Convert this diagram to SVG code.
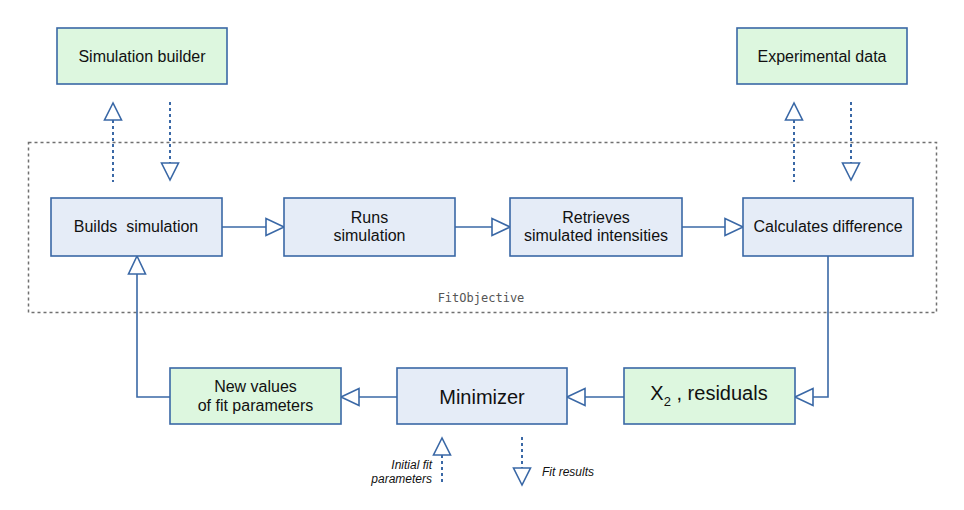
<svg xmlns="http://www.w3.org/2000/svg" width="964" height="510" viewBox="0 0 964 510">
<style>
.box{stroke:#3a68a6;stroke-width:1.6}
.blue{fill:#e5ecf7}
.green{fill:#ddf7df}
.t{font-family:"Liberation Sans",Arial,sans-serif;font-size:16px;fill:#111;text-anchor:middle}
.big{font-size:20px}
.it{font-family:"Liberation Sans",Arial,sans-serif;font-size:12px;font-style:italic;fill:#111}
.line{fill:none;stroke:#3a68a6;stroke-width:1.6}
.dot{fill:none;stroke:#3a68a6;stroke-width:2;stroke-dasharray:3 3}
.head{fill:#fff;stroke:#3a68a6;stroke-width:1.6}
</style>
<rect width="964" height="510" fill="#fff"/>
<g id="fitobjective">
<rect x="28.5" y="142.5" width="908" height="170" fill="none" stroke="#707070" stroke-width="1.5" stroke-dasharray="3 3"/>
<text x="481" y="302" font-family="'DejaVu Sans Mono','Liberation Mono',monospace" font-size="12" fill="#555" text-anchor="middle">FitObjective</text>
</g>
<g id="connectors">
<path class="dot" d="M113 120V182"/>
<path class="dot" d="M170 102V163"/>
<path class="dot" d="M794 120V182"/>
<path class="dot" d="M851 102V163"/>
<path class="dot" d="M442 455V482"/>
<path class="dot" d="M522 437V468"/>
<path class="line" d="M222 227H266"/>
<path class="line" d="M455 227H492"/>
<path class="line" d="M682 227H725"/>
<path class="line" d="M828 256V397H813"/>
<path class="line" d="M624 397H585"/>
<path class="line" d="M397 397H359"/>
<path class="line" d="M170 397H137V274"/>
<path class="head" d="M113 103L104.5 120H121.5Z"/>
<path class="head" d="M170 180L161.5 163H178.5Z"/>
<path class="head" d="M794 103L785.5 120H802.5Z"/>
<path class="head" d="M851 180L842.5 163H859.5Z"/>
<path class="head" d="M442 438L433.5 455H450.5Z"/>
<path class="head" d="M522 485L513.5 468H530.5Z"/>
<path class="head" d="M284 227L266 218.5V235.5Z"/>
<path class="head" d="M510 227L492 218.5V235.5Z"/>
<path class="head" d="M743 227L725 218.5V235.5Z"/>
<path class="head" d="M795 397L813 388.5V405.5Z"/>
<path class="head" d="M567 397L585 388.5V405.5Z"/>
<path class="head" d="M341 397L359 388.5V405.5Z"/>
<path class="head" d="M137 256L128.5 274H145.5Z"/>
</g>
<g id="simulation-builder">
<rect class="box green" x="57" y="28" width="170" height="56"/>
<text class="t" x="142" y="62">Simulation builder</text>
</g>
<g id="experimental-data">
<rect class="box green" x="737" y="28" width="170" height="56"/>
<text class="t" x="822" y="62">Experimental data</text>
</g>
<g id="builds-simulation">
<rect class="box blue" x="51" y="198" width="171" height="58"/>
<text class="t" x="136" y="232" xml:space="preserve">Builds  simulation</text>
</g>
<g id="runs-simulation">
<rect class="box blue" x="284" y="198" width="171" height="58"/>
<text class="t" x="369.5" y="223">Runs</text>
<text class="t" x="369.5" y="241">simulation</text>
</g>
<g id="retrieves">
<rect class="box blue" x="510" y="198" width="172" height="58"/>
<text class="t" x="596" y="223">Retrieves</text>
<text class="t" x="596" y="241">simulated intensities</text>
</g>
<g id="calculates-difference">
<rect class="box blue" x="743" y="198" width="170" height="58"/>
<text class="t" x="828" y="232">Calculates difference</text>
</g>
<g id="x2-residuals">
<rect class="box green" x="624" y="368" width="171" height="56"/>
<text class="t big" x="709" y="400">X<tspan font-size="13" dy="6">2</tspan><tspan dy="-6"> , residuals</tspan></text>
</g>
<g id="minimizer">
<rect class="box blue" x="397" y="368" width="170" height="56"/>
<text class="t big" x="482" y="404">Minimizer</text>
</g>
<g id="new-values">
<rect class="box green" x="170" y="368" width="171" height="56"/>
<text class="t" x="255.5" y="392">New values</text>
<text class="t" x="255.5" y="411">of fit parameters</text>
</g>
<g id="labels">
<text class="it" x="432" y="469" text-anchor="end">Initial fit</text>
<text class="it" x="432" y="483" text-anchor="end">parameters</text>
<text class="it" x="542" y="476">Fit results</text>
</g>
</svg>
